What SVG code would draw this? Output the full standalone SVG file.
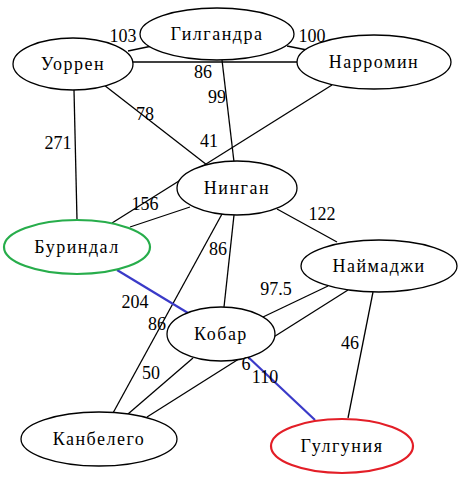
<svg xmlns="http://www.w3.org/2000/svg" width="463" height="480" viewBox="0 0 463 480">
<style>
.n ellipse{fill:#fff;stroke:#000;stroke-width:1.3}
.n text{font-size:18px;text-anchor:middle;letter-spacing:1.5px}
.e line{stroke:#000;stroke-width:1.3}
.e line.b{stroke:#3a3ac8;stroke-width:2.2}
.l text{font-size:18px;text-anchor:middle}
</style>
<rect width="463" height="480" fill="#fff"/>
<g id="edges" class="e">
<line x1="128" y1="51" x2="152" y2="46"/>
<line x1="287" y1="46" x2="307" y2="50"/>
<line x1="133" y1="62" x2="297" y2="62"/>
<line x1="222" y1="60" x2="234" y2="162"/>
<line x1="104" y1="85" x2="207" y2="165"/>
<line x1="332" y1="85" x2="112" y2="223"/>
<line x1="74" y1="90" x2="77" y2="220"/>
<line x1="190" y1="207" x2="130" y2="227"/>
<line x1="234" y1="215" x2="224" y2="307"/>
<line x1="222" y1="214" x2="113" y2="413"/>
<line x1="277" y1="209" x2="337" y2="242"/>
<line x1="328" y1="286" x2="263" y2="317"/>
<line x1="348" y1="290" x2="147" y2="417"/>
<line x1="373" y1="292" x2="348" y2="418"/>
<line x1="193" y1="358" x2="128" y2="414"/>
<line class="b" x1="117" y1="270" x2="188" y2="313"/>
<line class="b" x1="247" y1="356" x2="315" y2="420"/>
</g>
<g font-family="'Liberation Serif', 'Times New Roman', 'DejaVu Serif', serif">
<g id="n-gilgandra" class="n"><ellipse cx="217" cy="34" rx="77" ry="26"/><text x="217" y="40">Гилгандра</text></g>
<g id="n-uorren" class="n"><ellipse cx="73" cy="64" rx="60" ry="26"/><text x="73" y="70">Уоррен</text></g>
<g id="n-narromin" class="n"><ellipse cx="374" cy="62" rx="77" ry="27"/><text x="374" y="68">Нарромин</text></g>
<g id="n-ningan" class="n"><ellipse cx="237" cy="188" rx="60" ry="27"/><text x="237" y="194">Нинган</text></g>
<g id="n-burindal" class="n"><ellipse cx="77" cy="247" rx="73" ry="27" style="stroke:#27ad4b;stroke-width:2.2"/><text x="77" y="253">Буриндал</text></g>
<g id="n-naimadzhi" class="n"><ellipse cx="379" cy="266" rx="78" ry="26"/><text x="379" y="272">Наймаджи</text></g>
<g id="n-kobar" class="n"><ellipse cx="221" cy="334" rx="54" ry="27"/><text x="221" y="340">Кобар</text></g>
<g id="n-kanbelego" class="n"><ellipse cx="99" cy="439" rx="78" ry="27"/><text x="99" y="445">Канбелего</text></g>
<g id="n-gulguniya" class="n"><ellipse cx="342" cy="446" rx="71" ry="27" style="stroke:#e31e27;stroke-width:2.2"/><text x="342" y="452">Гулгуния</text></g>
<g id="labels" class="l">
<text x="123" y="42">103</text>
<text x="312" y="42">100</text>
<text x="203" y="78">86</text>
<text x="217" y="103">99</text>
<text x="145" y="120">78</text>
<text x="209" y="147">41</text>
<text x="58" y="149">271</text>
<text x="145" y="210">156</text>
<text x="218" y="255">86</text>
<text x="157" y="330">86</text>
<text x="322" y="220">122</text>
<text x="276" y="295">97.5</text>
<text x="246" y="370">6</text>
<text x="350" y="349">46</text>
<text x="151" y="379">50</text>
<text x="135" y="308">204</text>
<text x="265" y="383">110</text>
</g>
</g>
</svg>
